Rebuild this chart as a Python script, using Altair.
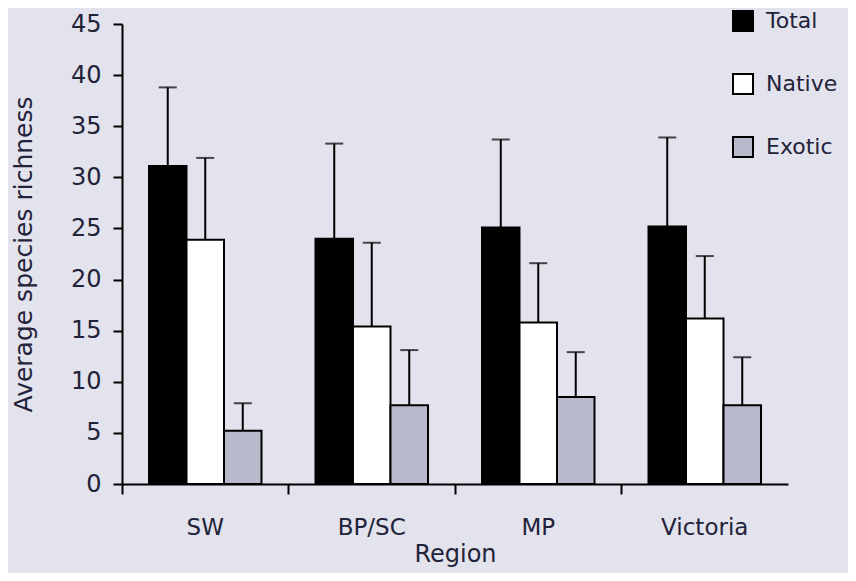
import altair as alt
import pandas as pd

regions = ["SW", "BP/SC", "MP", "Victoria"]
series = ["Total", "Native", "Exotic"]
total = [31.1, 24.0, 25.1, 25.2]
total_upper = [38.8, 33.3, 33.7, 33.9]
native = [23.9, 15.4, 15.8, 16.2]
native_upper = [31.9, 23.6, 21.6, 22.3]
exotic = [5.2, 7.7, 8.5, 7.7]
exotic_upper = [7.9, 13.1, 12.9, 12.4]
fills = ["#000000", "#ffffff", "#b8b9cb"]

rows = []
for i, r in enumerate(regions):
    for s, vals, ups in [("Total", total, total_upper), ("Native", native, native_upper), ("Exotic", exotic, exotic_upper)]:
        rows.append({"Region": r, "Series": s, "value": vals[i], "upper": ups[i]})
df = pd.DataFrame(rows)

BG = "#e2e3ec"
TXT = "#22223a"
FONT = "DejaVu Sans"

x = alt.X("Region:N", sort=regions, title="Region",
          scale=alt.Scale(paddingInner=0, paddingOuter=0),
          axis=alt.Axis(labelAngle=0, bandPosition=0, tickSize=10, tickWidth=2, tickColor="black",
                        domainColor="black", domainWidth=2, labelFontSize=23, labelColor=TXT,
                        labelFont=FONT, labelPadding=22, titleFontSize=24, titleFont=FONT,
                        titleFontWeight="normal", titleColor=TXT, titlePadding=3))
xo = alt.XOffset("Series:N", sort=series, scale=alt.Scale(paddingInner=0, paddingOuter=0.72))
y = alt.Y("value:Q", title="Average species richness",
          scale=alt.Scale(domain=[0, 45], nice=False),
          axis=alt.Axis(values=list(range(0, 50, 5)), grid=False, tickSize=9, tickWidth=2,
                        tickColor="black", domainColor="black", domainWidth=2,
                        labelFontSize=24, labelColor=TXT, labelFont=FONT, labelPadding=12,
                        titleFontSize=25, titleFont=FONT, titleFontWeight="normal",
                        titleColor=TXT, titlePadding=34))

base = alt.Chart(df)

bars = base.mark_bar(stroke="black", strokeWidth=2).encode(
    x=x, xOffset=xo, y=y,
    fill=alt.Fill("Series:N", sort=series,
                  scale=alt.Scale(domain=series, range=fills),
                  legend=alt.Legend(title=None, orient="none", legendX=610, legendY=-14,
                                    symbolType="square", symbolSize=400, symbolStrokeColor="black",
                                    symbolStrokeWidth=2, labelFontSize=22, labelFont=FONT,
                                    labelColor=TXT, rowPadding=35, labelOffset=12)),
)

rules = base.mark_rule(color="black", strokeWidth=2).encode(
    x=alt.X("Region:N", sort=regions), xOffset=xo,
    y="value:Q", y2="upper:Q",
)
caps = base.mark_tick(color="black", thickness=2, size=18, orient="horizontal").encode(
    x=alt.X("Region:N", sort=regions), xOffset=xo,
    y="upper:Q",
)

chart = alt.layer(bars, rules, caps).properties(
    width=666, height=460,
    autosize=alt.AutoSizeParams(type="none"),
    padding={"left": 114, "top": 16, "right": 60, "bottom": 89},
    background=BG,
).configure_view(stroke=None)

chart.save("out.html", embed_options={"renderer": "svg", "actions": False})
